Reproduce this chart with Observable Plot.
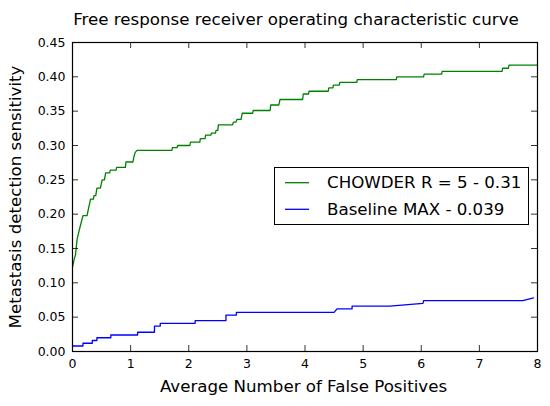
<!DOCTYPE html>
<html>
<head>
<meta charset="utf-8">
<script src="https://cdn.jsdelivr.net/npm/d3@7"></script>
<script src="https://cdn.jsdelivr.net/npm/@observablehq/plot@0.6"></script>
<style>
  html, body { margin: 0; padding: 0; background: white; }
  #chart { position: relative; width: 550px; height: 406px; font-family: "DejaVu Sans", sans-serif; }
  #legend { position: absolute; left: 274px; top: 167px; }
</style>
</head>
<body>
<div id="chart"></div>
<script>
const title = "Free response receiver operating characteristic curve";
const xLabel = "Average Number of False Positives";
const yLabel = "Metastasis detection sensitivity";
const seriesNames = ["CHOWDER R = 5 - 0.31", "Baseline MAX - 0.039"];
const seriesColors = ["#008000", "#0000ff"];
const xTicks = [0, 1, 2, 3, 4, 5, 6, 7, 8];
const yTicks = [0, 0.05, 0.10, 0.15, 0.20, 0.25, 0.30, 0.35, 0.40, 0.45];

// [average false positives, sensitivity]
const chowderCurve = [
  [0, 0.123], [0.03, 0.135], [0.05, 0.14], [0.08, 0.164], [0.12, 0.178], [0.18, 0.198],
  [0.25, 0.198], [0.31, 0.222], [0.36, 0.222], [0.37, 0.227], [0.40, 0.227], [0.42, 0.238],
  [0.48, 0.238], [0.51, 0.250], [0.55, 0.250], [0.57, 0.260], [0.64, 0.260], [0.65, 0.264],
  [0.75, 0.264], [0.76, 0.268], [0.91, 0.268], [0.92, 0.276], [1.04, 0.276], [1.06, 0.285],
  [1.08, 0.290], [1.11, 0.293], [1.71, 0.293], [1.72, 0.297], [1.80, 0.297], [1.81, 0.300],
  [2.02, 0.300], [2.03, 0.305], [2.19, 0.305], [2.20, 0.310], [2.28, 0.310], [2.29, 0.315],
  [2.38, 0.315], [2.39, 0.318], [2.46, 0.318], [2.47, 0.322], [2.50, 0.322], [2.51, 0.330],
  [2.75, 0.330], [2.77, 0.334], [2.81, 0.334], [2.83, 0.338], [2.90, 0.338], [2.92, 0.347],
  [3.10, 0.347], [3.11, 0.351], [3.40, 0.351], [3.41, 0.359], [3.55, 0.359], [3.57, 0.367],
  [3.96, 0.367], [3.97, 0.375], [4.06, 0.375], [4.07, 0.379], [4.40, 0.379], [4.41, 0.384],
  [4.48, 0.384], [4.49, 0.388], [4.59, 0.388], [4.60, 0.392], [4.89, 0.392], [4.90, 0.396],
  [5.57, 0.396], [5.58, 0.400], [6.04, 0.400], [6.05, 0.404], [6.35, 0.404], [6.36, 0.408],
  [7.39, 0.408], [7.40, 0.4125], [7.50, 0.4125], [7.51, 0.417], [8.00, 0.417]
];
const baselineCurve = [
  [0, 0.008], [0.18, 0.008], [0.18, 0.012], [0.34, 0.012], [0.34, 0.016], [0.42, 0.016],
  [0.42, 0.020], [0.66, 0.020], [0.66, 0.024], [1.12, 0.024], [1.12, 0.028], [1.41, 0.028],
  [1.41, 0.037], [1.51, 0.037], [1.51, 0.041], [2.11, 0.041], [2.11, 0.045], [2.64, 0.045],
  [2.64, 0.053], [2.82, 0.053], [2.82, 0.057], [4.50, 0.057], [4.55, 0.062], [4.81, 0.062],
  [4.81, 0.066], [5.46, 0.066], [6.03, 0.070], [6.04, 0.074], [7.75, 0.074], [7.93, 0.078]
];

const W = 550, H = 406;
const mL = 72, mR = 13, mT = 42, mB = 55;
const innerW = W - mL - mR, innerH = H - mT - mB;
const tickLen = 6;
const labelSize = 16.67;

const rows = [
  ...chowderCurve.map(([x, y]) => ({x, y, s: seriesNames[0]})),
  ...baselineCurve.map(([x, y]) => ({x, y, s: seriesNames[1]}))
];

const chart = Plot.plot({
  width: W, height: H,
  marginLeft: mL, marginRight: mR, marginTop: mT, marginBottom: mB,
  style: {fontFamily: "DejaVu Sans", fontSize: "12.5px", background: "white", color: "black", overflow: "visible"},
  x: {domain: [0, 8], label: null},
  y: {domain: [0, 0.45], label: null},
  color: {domain: seriesNames, range: seriesColors},
  marks: [
    Plot.line(rows, {x: "x", y: "y", z: "s", stroke: "s", strokeWidth: 1.3}),
    // inward ticks on all four sides
    Plot.ruleX(xTicks, {x: d => d, insetTop: innerH - tickLen, stroke: "black", strokeWidth: 0.8}),
    Plot.ruleX(xTicks, {x: d => d, insetBottom: innerH - tickLen, stroke: "black", strokeWidth: 0.8}),
    Plot.ruleY(yTicks, {y: d => d, insetRight: innerW - tickLen, stroke: "black", strokeWidth: 0.8}),
    Plot.ruleY(yTicks, {y: d => d, insetLeft: innerW - tickLen, stroke: "black", strokeWidth: 0.8}),
    Plot.frame({stroke: "black", strokeWidth: 1.2}),
    Plot.axisX({ticks: xTicks, tickSize: 0, tickPadding: 8, label: null, tickFormat: d3.format("d")}),
    Plot.axisY({ticks: yTicks, tickSize: 0, tickPadding: 7, label: null, tickFormat: d3.format(".2f")}),
    Plot.text([title], {text: d => d, frameAnchor: "top", dx: -9, dy: -18, lineAnchor: "bottom", fontSize: labelSize}),
    Plot.text([xLabel], {text: d => d, frameAnchor: "bottom", dx: -1.5, dy: 40.7, lineAnchor: "bottom", fontSize: labelSize}),
    Plot.text([yLabel], {text: d => d, frameAnchor: "left", textAnchor: "middle", rotate: -90, dx: -51.5, lineAnchor: "bottom", fontSize: labelSize})
  ]
});

const container = document.getElementById("chart");
container.appendChild(chart);

// legend box
const lw = 255, lh = 58;
const legend = d3.select(container).append("svg")
  .attr("id", "legend").attr("width", lw).attr("height", lh)
  .style("font-family", "DejaVu Sans").style("font-size", labelSize + "px");
legend.append("rect").attr("x", 0.5).attr("y", 0.5).attr("width", lw - 1).attr("height", lh - 1)
  .attr("fill", "white").attr("stroke", "black").attr("stroke-width", 1);
const entry = legend.selectAll("g.entry").data(seriesNames).join("g")
  .attr("class", "entry")
  .attr("transform", (d, i) => `translate(0, ${15.7 + i * 26.6})`);
entry.append("line").attr("x1", 11).attr("x2", 35).attr("y1", 0).attr("y2", 0)
  .attr("stroke", (d, i) => seriesColors[i]).attr("stroke-width", 1.3);
entry.append("text").attr("x", 53).attr("y", 5.6).attr("fill", "black").text(d => d);
</script>
</body>
</html>
